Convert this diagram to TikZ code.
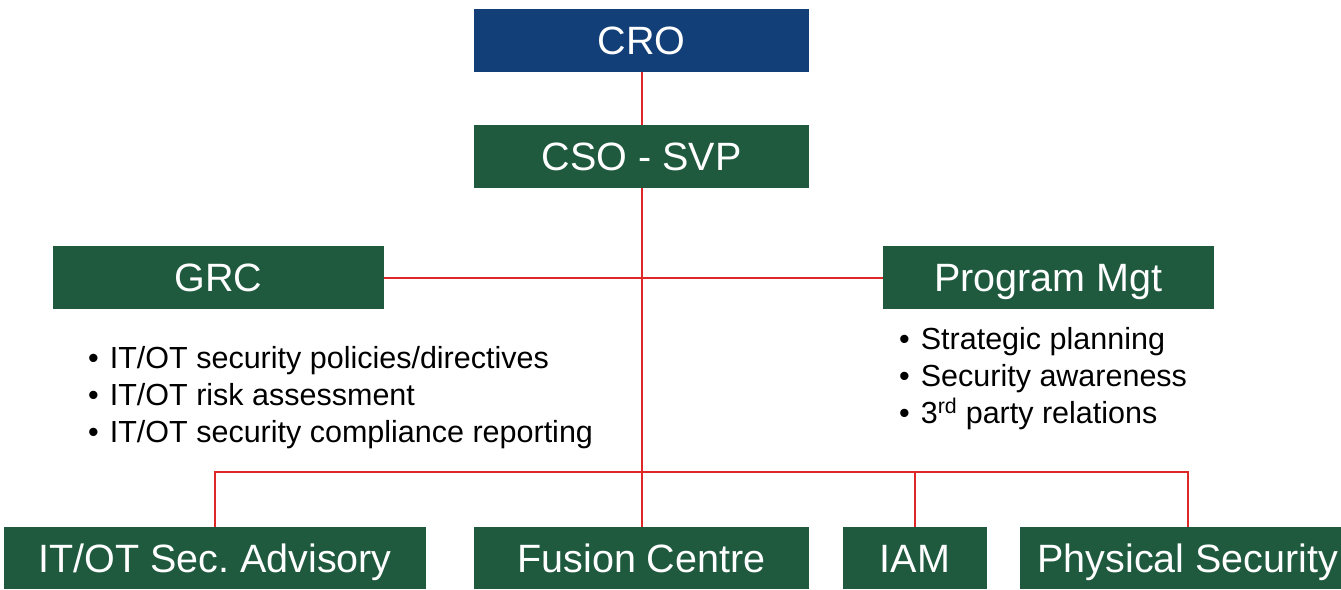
\documentclass[tikz,border=0pt]{standalone}
\usepackage{fontspec}
\setmainfont{Liberation Sans}
\definecolor{croblue}{RGB}{18,63,120}
\definecolor{boxgreen}{RGB}{31,90,63}
\definecolor{linered}{RGB}{222,40,40}
\tikzset{
  orgbox/.style={fill=boxgreen, text=white, inner sep=0pt, minimum height=63pt,
    text height=28pt, text depth=0pt, font=\fontsize{39.5}{47}\selectfont\frenchspacing},
  bluebox/.style={orgbox, fill=croblue},
  bulletlist/.style={anchor=base west, align=left, inner sep=0pt, text=black,
    font=\fontsize{30.5}{37}\selectfont},
  link/.style={draw=linered, line width=2pt}
}
\newcommand{\bul}{\textbullet\hspace{11pt}}
\begin{document}
\begin{tikzpicture}[x=1pt,y=-1pt]
\useasboundingbox (0,0) rectangle (1341,589);
\begin{scope}
\clip (0,0) rectangle (1341,589);
\node[bluebox, minimum width=335pt] (cro) at (641.5,40.5) {CRO};
\node[orgbox, minimum width=335pt] (cso) at (641.5,156.5) {CSO - SVP};
\node[orgbox, minimum width=331pt] (grc) at (218.5,277.5) {GRC};
\node[orgbox, minimum width=331pt] (pm) at (1048.5,277.5) {Program Mgt};
\node[orgbox, minimum width=422pt, minimum height=62pt] (itot) at (215,558) {IT/OT Sec. Advisory};
\node[orgbox, minimum width=335pt, minimum height=62pt] (fusion) at (641.5,558) {Fusion Centre};
\node[orgbox, minimum width=144pt, minimum height=62pt] (iam) at (915,558) {IAM};
\node[orgbox, minimum width=336pt, minimum height=62pt] (phys) at (1188,558) {Physical Security};
\end{scope}

\node[bulletlist] (grclist) at (88,442) {\bul IT/OT security policies/directives\\ \bul IT/OT risk assessment\\ \bul IT/OT security compliance reporting};
\node[bulletlist] (pmlist) at (899,423) {\bul Strategic planning\\ \bul Security awareness\\ \bul 3\textsuperscript{rd} party relations};

\coordinate (bus) at (641.5,472);
\draw[link] (cro.south) -- (cso.north);
\draw[link] (cso.south) -- (bus);
\draw[link] (grc.east) -- (pm.west);
\draw[link] (itot.north) |- (bus);
\draw[link] (bus) -- (fusion.north);
\draw[link] (bus) -| (iam.north);
\draw[link] (bus) -| (phys.north);
\end{tikzpicture}
\end{document}
